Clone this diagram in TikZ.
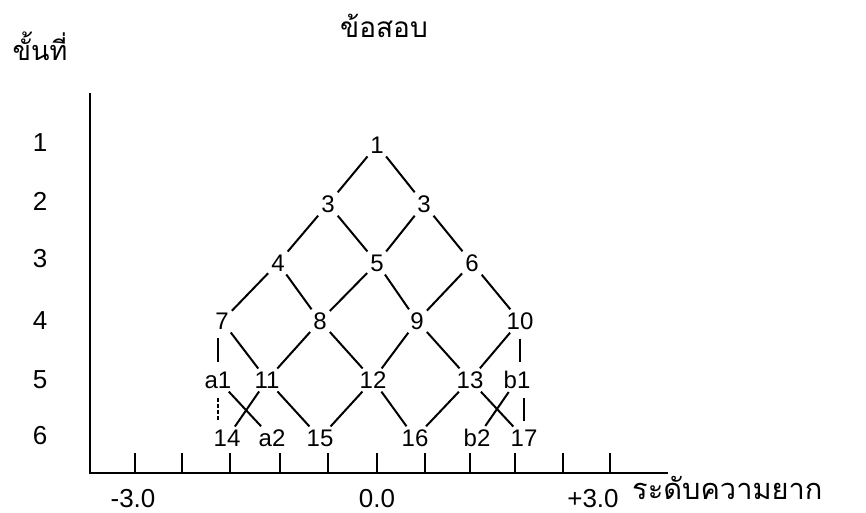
\documentclass[tikz,border=0pt]{standalone}
\usepackage{fontspec}
\setmainfont{Liberation Sans}
\newfontfamily\thaifont[Script=Thai]{Loma}
\usepackage{tikz}

\tikzset{
  item/.style={inner sep=3pt,font=\fontsize{24}{24}\selectfont},
  scalelbl/.style={inner sep=0pt,font=\fontsize{26}{26}\selectfont},
  link/.style={draw=black,line width=2pt},
  stub/.style={draw=black,line width=2pt,shorten <=6pt,shorten >=6pt},
  axisline/.style={draw=black,line width=2pt}
}

\begin{document}
\begin{tikzpicture}[x=1pt,y=-1pt]
\useasboundingbox (0,0) rectangle (866,512);
% titles:
\node[inner sep=0pt,font=\thaifont\fontsize{28}{28}\selectfont] (title) at (384,26) {ข้อสอบ};
\node[inner sep=0pt,font=\thaifont\fontsize{27}{27}\selectfont] (steptitle) at (40,46) {ขั้นที่};
\node[inner sep=0pt,anchor=base west,font=\thaifont\fontsize{29}{29}\selectfont] (difftitle) at (632,499) {ระดับความยาก};
% axes:
\coordinate (ytop) at (90,93);
\coordinate (orig) at (90,473);
\coordinate (xend) at (668,473);
\path[axisline] (ytop) -- (orig) -- (xend);
\foreach \x in {135,182,230,280,328,377,425,470,515,563,610}
  \path[draw=black,line width=1.5pt] (\x,473) -- (\x,453);
\node[scalelbl] (lo) at (133,499) {-3.0};
\node[scalelbl] (mid) at (377,499) {0.0};
\node[scalelbl] (hi) at (593,499) {+3.0};
\foreach \r/\y in {1/143,2/201,3/259,4/321,5/380,6/436}
  \node[scalelbl] (s\r) at (40,\y) {\r};
% items at step 1 to 6:
\node[item] (i1) at (377,145) {1};
\node[item] (i3a) at (328,204) {3};
\node[item] (i3b) at (424,204) {3};
\node[item] (i4) at (278,263) {4};
\node[item] (i5) at (377,263) {5};
\node[item] (i6) at (472,263) {6};
\node[item] (i7) at (222,321) {7};
\node[item] (i8) at (320,321) {8};
\node[item] (i9) at (417,321) {9};
\node[item] (i10) at (520,321) {10};
\node[item] (a1) at (218,380) {a1};
\node[item] (i11) at (267,380) {11};
\node[item] (i12) at (373,380) {12};
\node[item] (i13) at (470,380) {13};
\node[item] (b1) at (517,380) {b1};
\node[item] (i14) at (227,438) {14};
\node[item] (a2) at (272,438) {a2};
\node[item] (i15) at (320,438) {15};
\node[item] (i16) at (415,438) {16};
\node[item] (b2) at (477,438) {b2};
\node[item] (i17) at (524,438) {17};
% links:
\foreach \a/\b in {i1/i3a,i1/i3b,i3a/i4,i3a/i5,i3b/i5,i3b/i6,i4/i7,i4/i8,i5/i8,i5/i9,
    i6/i9,i6/i10,i7/i11,i8/i11,i8/i12,i9/i12,i9/i13,i10/i13,i11/i15,i12/i15,i12/i16,
    i13/i16,i11/i14,a1/a2,i13/i17,b1/b2}
  \path[link] (\a) -- (\b);
\path[stub] (a1.north) -- (a1.north |- i7.south);
\path[stub,dash pattern=on 4pt off 2pt] (a1.south) -- (a1.south |- i14.north);
\path[stub] (i10.south) -- (i10.south |- b1.north);
\path[stub] (i17.north) -- (i17.north |- b1.south);
\end{tikzpicture}
\end{document}
